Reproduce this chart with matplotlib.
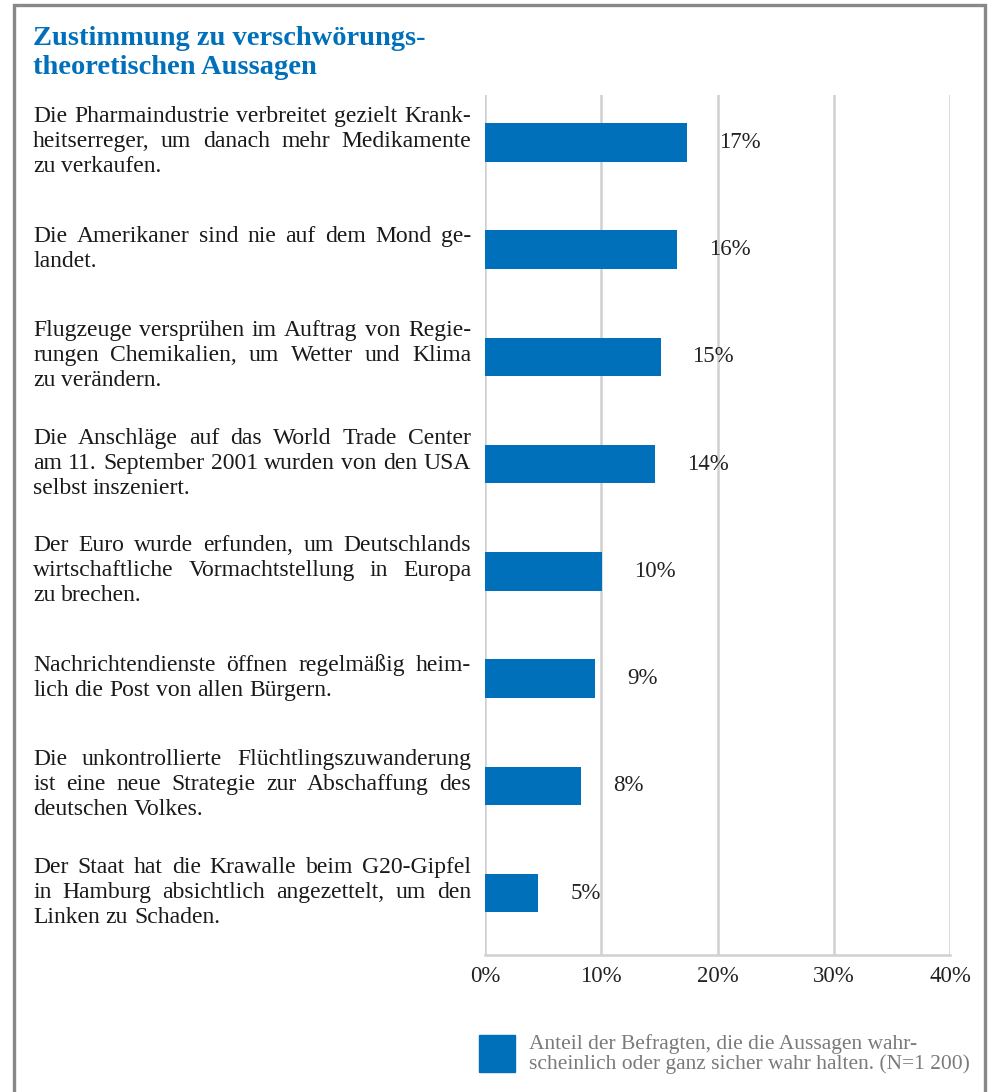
import matplotlib.pyplot as plt
import matplotlib.transforms as mtransforms
from matplotlib.patches import Rectangle

# Daten
aussagen = [
    "Die Pharmaindustrie verbreitet gezielt Krank-\nheitserreger, um danach mehr Medikamente\nzu verkaufen.",
    "Die Amerikaner sind nie auf dem Mond ge-\nlandet.",
    "Flugzeuge versprühen im Auftrag von Regie-\nrungen Chemikalien, um Wetter und Klima\nzu verändern.",
    "Die Anschläge auf das World Trade Center\nam 11. September 2001 wurden von den USA\nselbst inszeniert.",
    "Der Euro wurde erfunden, um Deutschlands\nwirtschaftliche Vormachtstellung in Europa\nzu brechen.",
    "Nachrichtendienste öffnen regelmäßig heim-\nlich die Post von allen Bürgern.",
    "Die unkontrollierte Flüchtlingszuwanderung\nist eine neue Strategie zur Abschaffung des\ndeutschen Volkes.",
    "Der Staat hat die Krawalle beim G20-Gipfel\nin Hamburg absichtlich angezettelt, um den\nLinken zu Schaden.",
]
werte = [17.4, 16.5, 15.1, 14.6, 10.1, 9.5, 8.3, 4.6]
beschriftung = ["17%", "16%", "15%", "14%", "10%", "9%", "8%", "5%"]
ticks = [0, 10, 20, 30, 40]
tick_labels = ["0%", "10%", "20%", "30%", "40%"]

blau = "#0070BA"
W, H = 988, 1092
plt.rcParams['font.family'] = ['Liberation Serif', 'DejaVu Serif']

fig = plt.figure(figsize=(W / 100, H / 100), dpi=100)
renderer = fig.canvas.get_renderer()

# Rahmen
fig.patches.append(Rectangle((14 / W, -0.05), (985 - 14) / W, 1.05 - 5 / H,
                             transform=fig.transFigure, fill=False,
                             edgecolor="#888888", linewidth=2.4))

fig.text(33 / W, 1 - 26 / H, "Zustimmung zu verschwörungs-\ntheoretischen Aussagen",
         color=blau, fontsize=20.5, fontweight="bold", va="top", ha="left",
         linespacing=1.2)

ax = fig.add_axes([485 / W, (H - 955) / H, (950 - 485) / W, (955 - 95) / H])
y = list(range(len(werte)))
ax.barh(y, werte, height=0.36, color=blau, zorder=3)
ax.set_ylim(7.578, -0.443)
ax.set_xlim(0, 40)

for i, (v, t) in enumerate(zip(werte, beschriftung)):
    ax.annotate(t, (v, i), xytext=(23, 0), textcoords="offset points",
                va="center", ha="left", fontsize=16.5, color="#222222")

for x in ticks:
    ax.axvline(x, color="#d0d0d0", linewidth=1.8, zorder=1)

for s in ["top", "right", "left"]:
    ax.spines[s].set_visible(False)
ax.spines["bottom"].set_color("#d0d0d0")
ax.spines["bottom"].set_linewidth(1.8)
ax.set_yticks([])
ax.set_xticks(ticks)
ax.set_xticklabels(tick_labels, fontsize=16.5, color="#222222")
ax.tick_params(axis="x", length=0, pad=8)

# Aussagen im Blocksatz
trans = mtransforms.blended_transform_factory(fig.transFigure, ax.transData)
px_pro_einheit = (955 - 95) / (7.578 + 0.443)
fs = 17
links, rechts = 33, 471
zeilenabstand = 25 / px_pro_einheit
basis = 6.5 / px_pro_einheit


def wortbreite(wort):
    t = fig.text(0, 0, wort, fontsize=fs)
    b = t.get_window_extent(renderer).width
    t.remove()
    return b


leer = wortbreite("a b") - wortbreite("ab")
for i, txt in enumerate(aussagen):
    zeilen = txt.split("\n")
    n = len(zeilen)
    for j, zeile in enumerate(zeilen):
        yz = i + (j - (n - 1) / 2) * zeilenabstand - 2 / px_pro_einheit + basis
        woerter = zeile.split(" ")
        breiten = [wortbreite(w) for w in woerter]
        if j < n - 1 and len(woerter) > 1:
            luecke = (rechts - links - sum(breiten)) / (len(woerter) - 1)
        else:
            luecke = leer
        xp = links
        for w, b in zip(woerter, breiten):
            ax.text(xp / W, yz, w, transform=trans, ha="left", va="baseline",
                    fontsize=fs, color="#1a1a1a")
            xp += b + luecke

# Legende
fig.patches.append(Rectangle((479 / W, (H - 1072) / H), 36 / W, 37 / H,
                             transform=fig.transFigure, color=blau))
fig.text(529 / W, (H - 1054) / H,
         "Anteil der Befragten, die die Aussagen wahr-\nscheinlich oder ganz sicher wahr halten. (N=1 200)",
         color="#7a7a7a", fontsize=15.5, va="center", ha="left", linespacing=1.0)

fig.savefig("out.png", dpi=100)
